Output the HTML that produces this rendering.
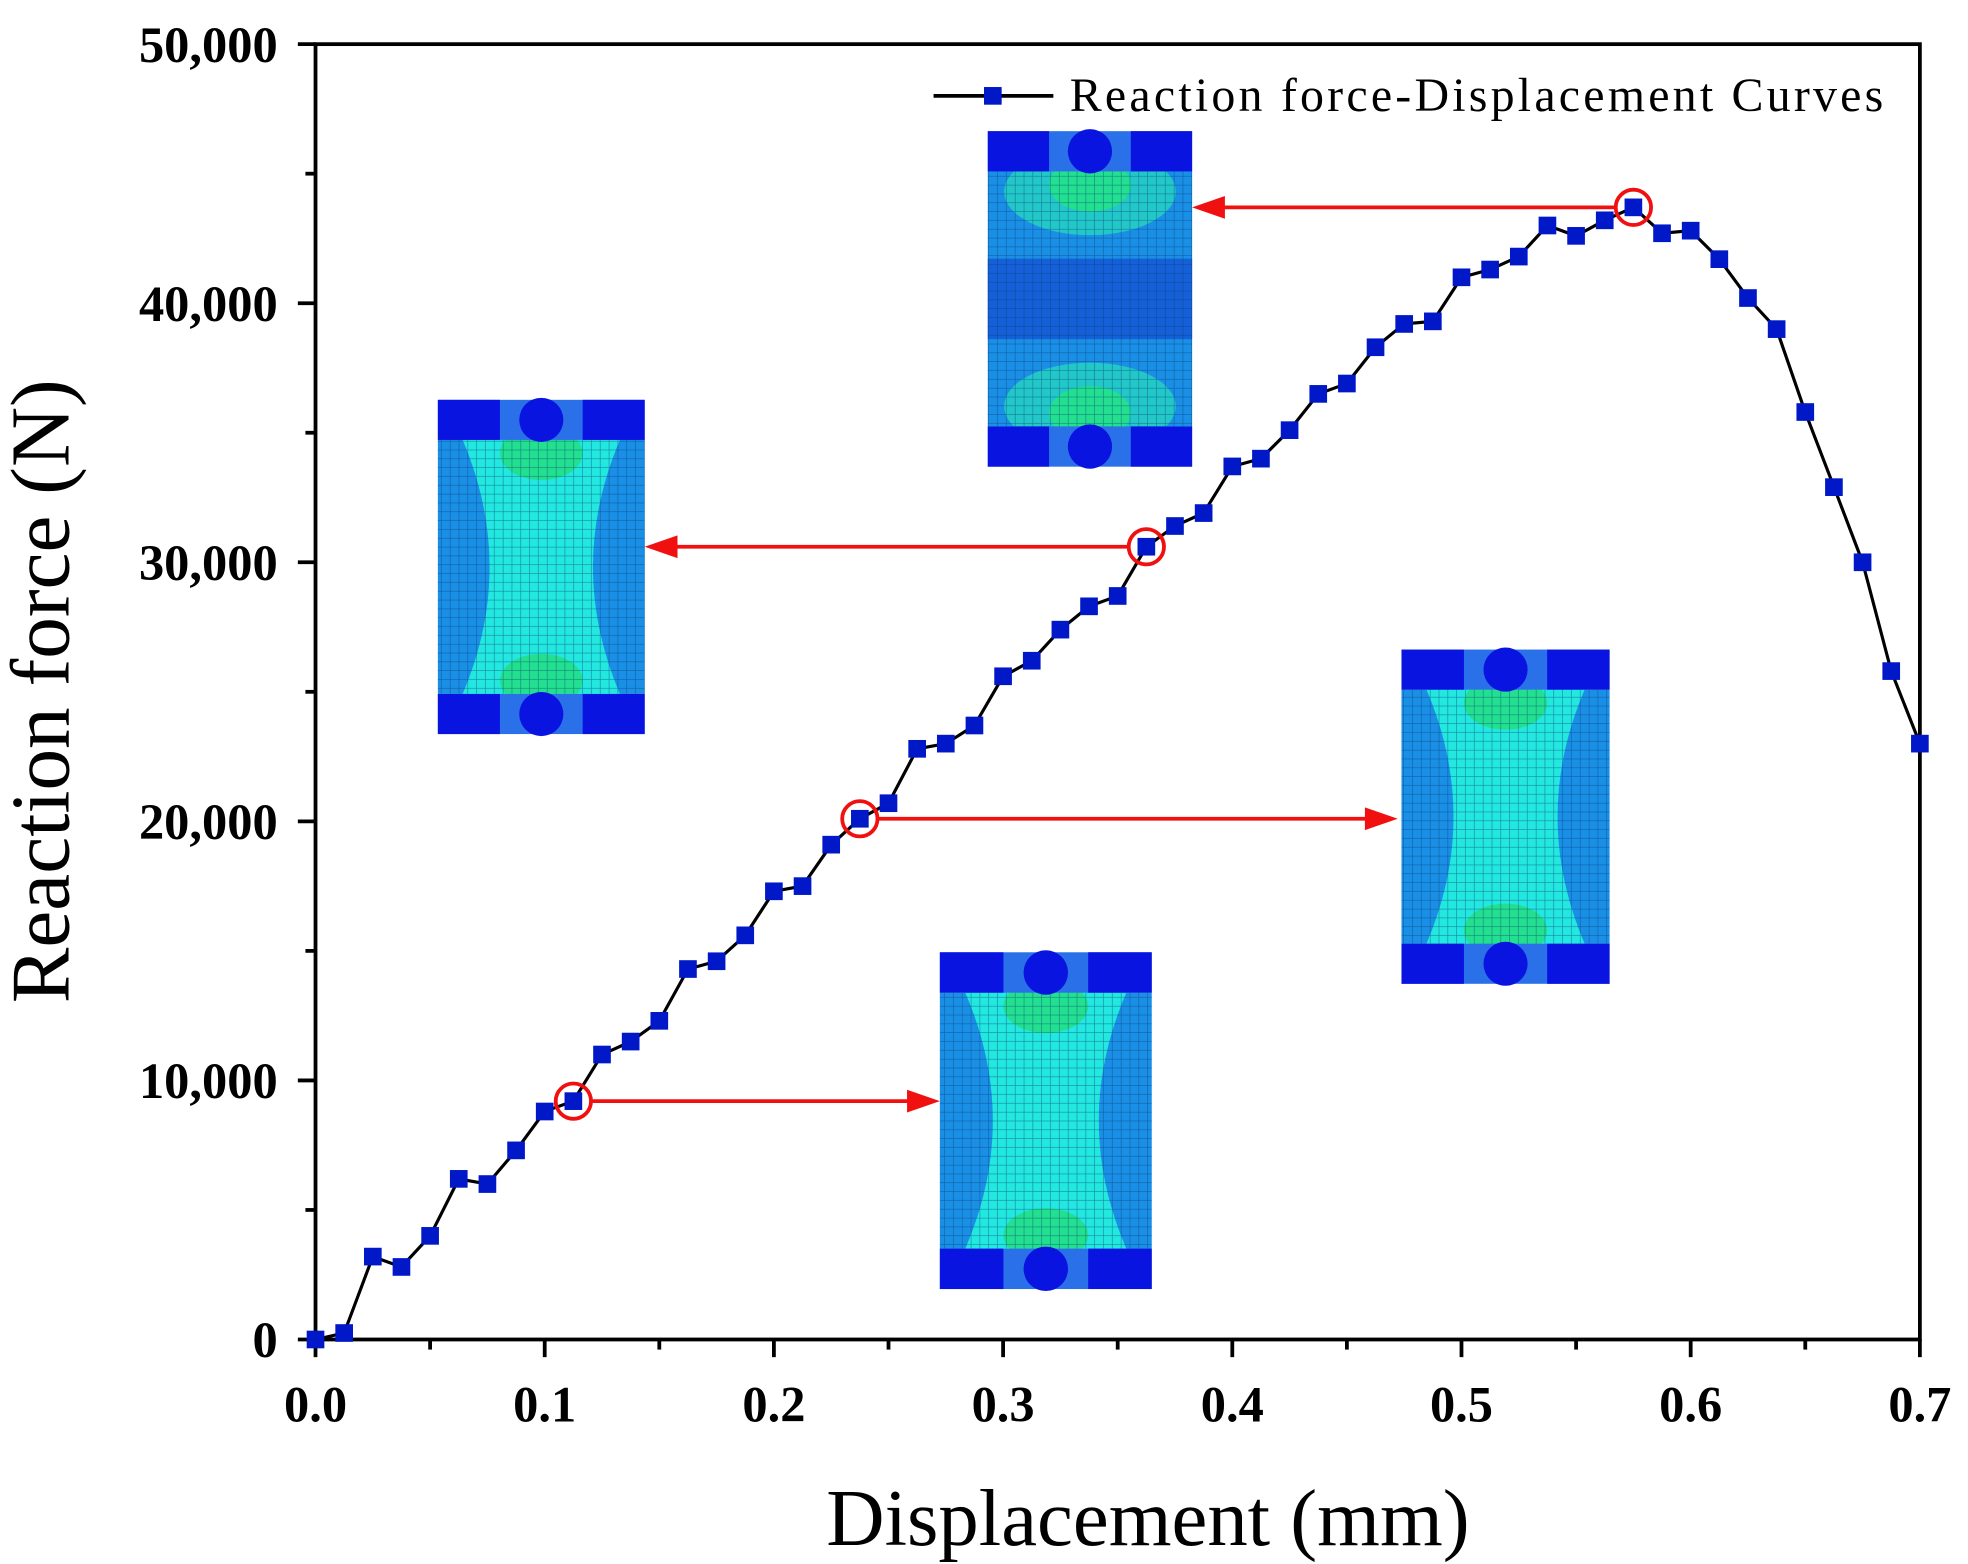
<!DOCTYPE html>
<html><head><meta charset="utf-8"><style>
html,body{margin:0;padding:0;background:#fff}
svg{display:block}
text{font-family:"Liberation Serif",serif;fill:#000}
</style></head><body>
<svg id="chart" width="1968" height="1564" viewBox="0 0 1560 1240" xmlns="http://www.w3.org/2000/svg">
<defs>
<pattern id="grid" width="7" height="7" patternUnits="userSpaceOnUse">
<path d="M7 0 V7 M0 7 H7" stroke="#0a3a70" stroke-width="1" opacity="0.55" fill="none"/>
</pattern>
</defs>
<g id="insets"></g>
<g id="axes"></g>
<g id="series"></g>
<g id="annot"></g>
<g id="legend">
<line x1="740" y1="76" x2="835" y2="76" stroke="#000" stroke-width="3"/>
<rect x="780" y="69" width="14" height="14" fill="#0018c8"/>
<text x="848" y="88" font-size="38" textLength="645" lengthAdjust="spacing">Reaction force-Displacement Curves</text>
</g>
<text x="910" y="1225" font-size="64" text-anchor="middle">Displacement (mm)</text>
<text transform="translate(54,548) rotate(-90)" font-size="66" text-anchor="middle">Reaction force (N)</text>
</svg>
<script>
const forceValues = [0,250,3200,2800,4000,6200,6000,7300,8800,9200,11000,11500,12300,14300,14600,15600,17300,17500,19100,20100,20700,22800,23000,23700,25600,26200,27400,28300,28700,30600,31400,31900,33700,34000,35100,36500,36900,38300,39200,39300,41000,41300,41800,43000,42600,43200,43700,42700,42800,41700,40200,39000,35800,32900,30000,25800,23000];
const dispStep = 0.0125;
const xTicks = [0,0.1,0.2,0.3,0.4,0.5,0.6,0.7];
const xTickLabels = ["0.0","0.1","0.2","0.3","0.4","0.5","0.6","0.7"];
const yTicks = [0,10000,20000,30000,40000,50000];
const yTickLabels = ["0","10,000","20,000","30,000","40,000","50,000"];
const highlightIdx = [9,19,29,46];

const NS="http://www.w3.org/2000/svg";
const L=250,R=1522,T=35,B=1062;
const xs=v=>L+(v/0.7)*(R-L);
const ys=v=>B-(v/50000)*(B-T);
function mk(tag,attrs,parent){const e=document.createElementNS(NS,tag);for(const k in attrs)e.setAttribute(k,attrs[k]);parent.appendChild(e);return e;}

const axes=document.getElementById('axes');
let fr=mk('rect',{x:L,y:T,width:R-L,height:B-T,fill:'none',stroke:'#000','stroke-width':3},axes);


xTicks.forEach((t,i)=>{
 const x=xs(t);
 let l=mk('line',{x1:x,y1:B,x2:x,y2:B+14,stroke:'#000','stroke-width':3},axes);
 
 
 if(i<xTicks.length-1){let m=mk('line',{x1:xs(t+0.05),y1:B,x2:xs(t+0.05),y2:B+8,stroke:'#000','stroke-width':3},axes);
 
 }
 let tx=mk('text',{x:x,y:B+65,'font-size':40,'font-weight':'bold','text-anchor':'middle'},axes);
 tx.textContent=xTickLabels[i];
 
 
});
yTicks.forEach((t,i)=>{
 const y=ys(t);
 let l=mk('line',{x1:L-14,y1:y,x2:L,y2:y,stroke:'#000','stroke-width':3},axes);
 
 
 if(i<yTicks.length-1){let m=mk('line',{x1:L-8,y1:ys(t+5000),x2:L,y2:ys(t+5000),stroke:'#000','stroke-width':3},axes);
 
 }
 let tx=mk('text',{x:L-30,y:y+14,'font-size':40,'font-weight':'bold','text-anchor':'end'},axes);
 tx.textContent=yTickLabels[i];
 
 
});

const ser=document.getElementById('series');
const pts=forceValues.map((v,i)=>xs(i*dispStep).toFixed(1)+','+ys(v).toFixed(1)).join(' ');
let pl=mk('polyline',{points:pts,fill:'none',stroke:'#000','stroke-width':2.5},ser);


forceValues.forEach((v,i)=>{
 let r=mk('rect',{x:xs(i*dispStep)-7,y:ys(v)-7,width:14,height:14,fill:'#0018c8'},ser);
 
 
});

const ins=document.getElementById('insets');
function inset(x,y,w,h,name,alt){
 const g=mk('g',{},ins);
 
 
 const bh=h*0.12;
 mk('rect',{x:x,y:y+bh,width:w,height:h-2*bh,fill:'#1a8fe6'},g);
 if(alt){
  mk('rect',{x:x,y:y+h*0.38,width:w,height:h*0.24,fill:'#1560d8'},g);
  mk('ellipse',{cx:x+w/2,cy:y+bh+h*0.06,rx:w*0.42,ry:h*0.13,fill:'#22c8c8'},g);
  mk('ellipse',{cx:x+w/2,cy:y+h-bh-h*0.06,rx:w*0.42,ry:h*0.13,fill:'#22c8c8'},g);
 } else {
  mk('path',{d:`M${x+w*0.12} ${y+bh} H${x+w*0.88} Q${x+w*0.62} ${y+h/2} ${x+w*0.88} ${y+h-bh} H${x+w*0.12} Q${x+w*0.38} ${y+h/2} ${x+w*0.12} ${y+bh} Z`,fill:'#22e8e0'},g);
 }
 mk('ellipse',{cx:x+w/2,cy:y+bh+h*0.04,rx:w*0.2,ry:h*0.08,fill:'#22e090'},g);
 mk('ellipse',{cx:x+w/2,cy:y+h-bh-h*0.04,rx:w*0.2,ry:h*0.08,fill:'#22e090'},g);
 mk('rect',{x:x,y:y+bh,width:w,height:h-2*bh,fill:'url(#grid)'},g);
 [y,y+h-bh].forEach(by=>{
  mk('rect',{x:x,y:by,width:w,height:bh,fill:'#2a70e8'},g);
  mk('rect',{x:x,y:by,width:w*0.3,height:bh,fill:'#0a14e0'},g);
  mk('rect',{x:x+w*0.7,y:by,width:w*0.3,height:bh,fill:'#0a14e0'},g);
  mk('circle',{cx:x+w/2,cy:by+bh/2,r:bh*0.55,fill:'#0a14e0'},g);
 });
}
inset(783,104,162,266,'fem-inset-peak',true);
inset(347,317,164,265,'fem-inset-30k',false);
inset(1111,515,165,265,'fem-inset-20k',false);
inset(745,755,168,267,'fem-inset-10k',false);

const an=document.getElementById('annot');
const targets=[[745,'right'],[1108,'right'],[511,'left'],[945,'left']];
highlightIdx.forEach((idx,k)=>{
 const cx=xs(idx*dispStep), cy=ys(forceValues[idx]);
 let c=mk('circle',{cx:cx,cy:cy,r:14,fill:'none',stroke:'#f01010','stroke-width':3},an);
 
 
 const tx=targets[k][0];
 const sx=targets[k][1]==='right'?cx+14:cx-14;
 const dir=targets[k][1]==='right'?1:-1;
 let l=mk('line',{x1:sx,y1:cy,x2:tx-dir*22,y2:cy,stroke:'#f01010','stroke-width':3},an);
 
 
 let h=mk('polygon',{points:`${tx},${cy} ${tx-dir*26},${cy-9} ${tx-dir*26},${cy+9}`,fill:'#f01010'},an);
 
 
});
</script>
</body></html>
